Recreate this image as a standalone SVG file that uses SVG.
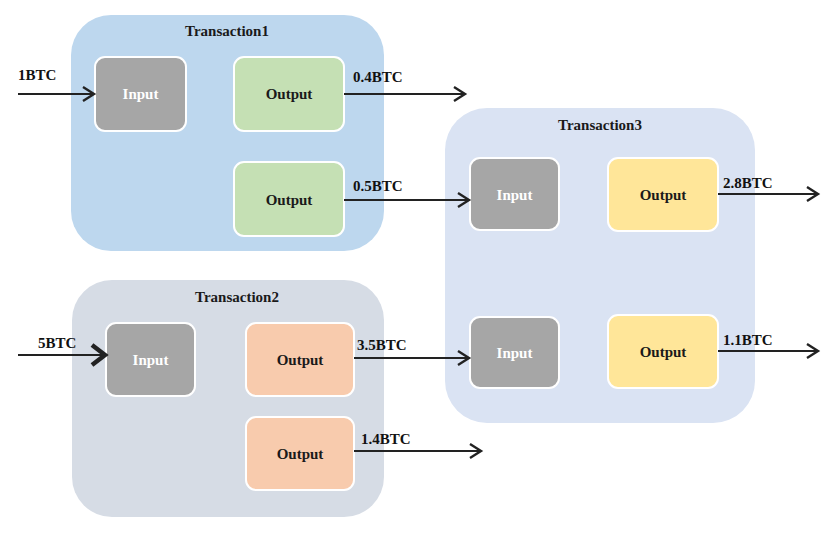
<svg xmlns="http://www.w3.org/2000/svg" width="834" height="550" viewBox="0 0 834 550" font-family="'Liberation Serif', 'DejaVu Serif', serif" font-weight="bold" font-size="15">
<style>
.t{fill:#1a1a1a;text-anchor:middle}
.lbl{fill:#111}
.in{fill:#a6a6a6;stroke:#fff;stroke-width:2}
.in-t{fill:#fff;text-anchor:middle}
.out-t{fill:#1a1a1a;text-anchor:middle}
.g{fill:#c5e0b4;stroke:#fff;stroke-width:2}
.o{fill:#f8cbad;stroke:#fff;stroke-width:2}
.y{fill:#ffe699;stroke:#fff;stroke-width:2}
.c{fill:none;stroke:#222;stroke-width:2.2}
</style>
<defs>
<marker id="ah" markerUnits="userSpaceOnUse" markerWidth="16" markerHeight="18" refX="13" refY="8" orient="auto">
<path d="M2,1 L13,8 L2,15" fill="none" stroke="#222" stroke-width="2.4"/>
</marker>
<marker id="ahb" markerUnits="userSpaceOnUse" markerWidth="20" markerHeight="26" refX="16" refY="12" orient="auto">
<path d="M3,2 L16,12 L3,22" fill="none" stroke="#222" stroke-width="4.5"/>
</marker>
</defs>
<rect width="834" height="550" fill="#fff"/>

<g id="transaction1">
<rect x="71" y="15" width="313" height="236" rx="40" fill="#bdd7ee"/>
<text class="t" x="227" y="36">Transaction1</text>
</g>
<g id="transaction2">
<rect x="72" y="280" width="312" height="237" rx="40" fill="#d6dce5"/>
<text class="t" x="237" y="302">Transaction2</text>
</g>
<g id="transaction3">
<rect x="445" y="108" width="310" height="315" rx="42" fill="#dae3f3"/>
<text class="t" x="600" y="130">Transaction3</text>
</g>

<g id="t1-input"><rect class="in" x="95" y="57" width="91" height="74" rx="10"/><text class="in-t" x="140.5" y="99">Input</text></g>
<g id="t1-output1"><rect class="g" x="234" y="57" width="110" height="74" rx="10"/><text class="out-t" x="289" y="99">Output</text></g>
<g id="t1-output2"><rect class="g" x="234" y="162" width="110" height="74" rx="10"/><text class="out-t" x="289" y="205">Output</text></g>

<g id="t2-input"><rect class="in" x="106" y="323" width="89" height="73" rx="10"/><text class="in-t" x="150.5" y="365">Input</text></g>
<g id="t2-output1"><rect class="o" x="246" y="323" width="108" height="73" rx="10"/><text class="out-t" x="300" y="365">Output</text></g>
<g id="t2-output2"><rect class="o" x="246" y="417" width="108" height="73" rx="10"/><text class="out-t" x="300" y="459">Output</text></g>

<g id="t3-input1"><rect class="in" x="470" y="158" width="89" height="72" rx="10"/><text class="in-t" x="514.5" y="200">Input</text></g>
<g id="t3-output1"><rect class="y" x="608" y="158" width="110" height="73" rx="10"/><text class="out-t" x="663" y="200">Output</text></g>
<g id="t3-input2"><rect class="in" x="470" y="317" width="89" height="71" rx="10"/><text class="in-t" x="514.5" y="358">Input</text></g>
<g id="t3-output2"><rect class="y" x="608" y="315" width="110" height="73" rx="10"/><text class="out-t" x="663" y="357">Output</text></g>

<g id="connectors">
<line class="c" x1="18" y1="94" x2="94" y2="94" marker-end="url(#ah)"/>
<line class="c" x1="344" y1="94" x2="465" y2="94" marker-end="url(#ah)"/>
<line class="c" x1="344" y1="200" x2="469" y2="200" marker-end="url(#ah)"/>
<line class="c" x1="18" y1="355" x2="105" y2="355" stroke-width="5" marker-end="url(#ahb)"/>
<line class="c" x1="354" y1="358" x2="469" y2="358" marker-end="url(#ah)"/>
<line class="c" x1="354" y1="451" x2="481" y2="451" marker-end="url(#ah)"/>
<line class="c" x1="718" y1="194" x2="818" y2="194" marker-end="url(#ah)"/>
<line class="c" x1="718" y1="351" x2="818" y2="351" marker-end="url(#ah)"/>
<text class="lbl" x="18" y="80">1BTC</text>
<text class="lbl" x="353" y="82">0.4BTC</text>
<text class="lbl" x="353" y="191">0.5BTC</text>
<text class="lbl" x="38" y="348">5BTC</text>
<text class="lbl" x="357" y="350">3.5BTC</text>
<text class="lbl" x="361" y="444">1.4BTC</text>
<text class="lbl" x="723" y="188">2.8BTC</text>
<text class="lbl" x="723" y="345">1.1BTC</text>
</g>
</svg>
